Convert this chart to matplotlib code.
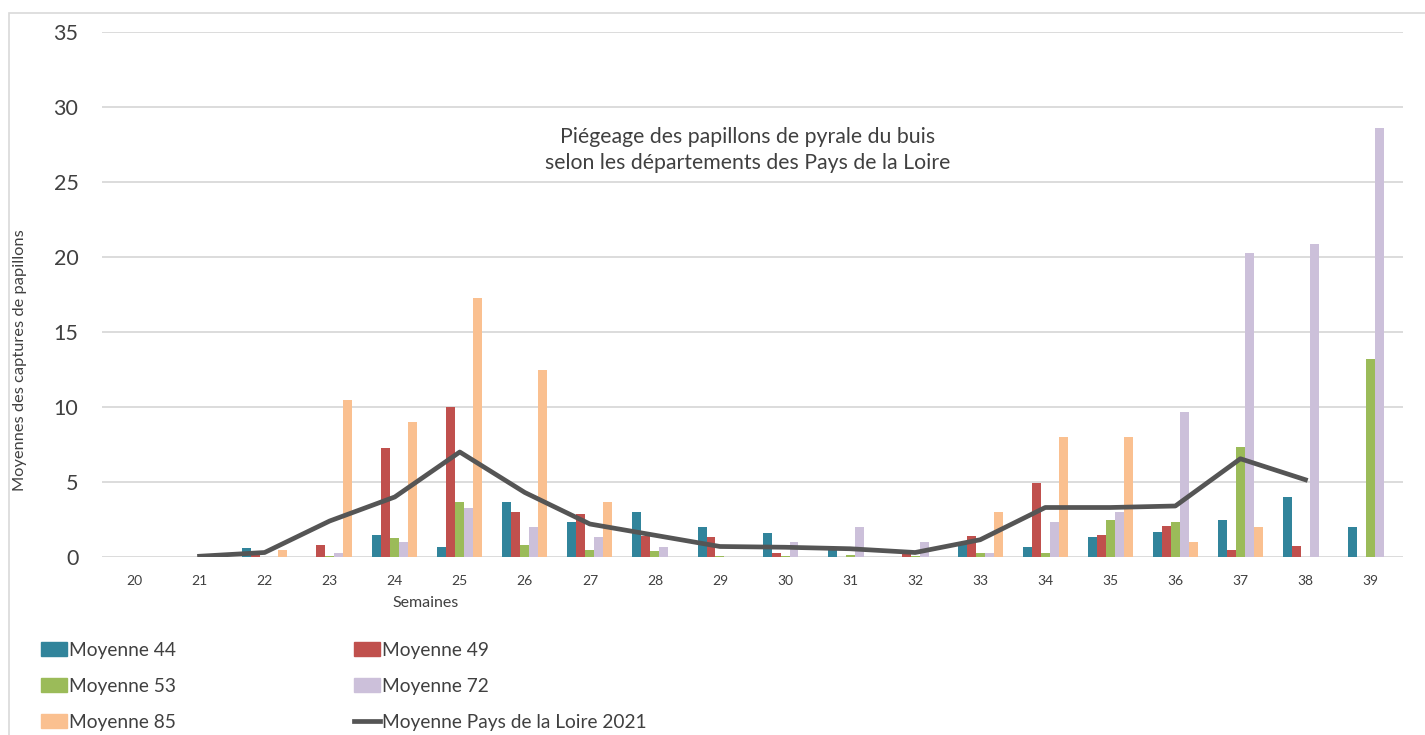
import matplotlib
matplotlib.use("Agg")
import matplotlib.pyplot as plt
import numpy as np
from matplotlib.patches import Rectangle, Patch
from matplotlib.lines import Line2D

plt.rcParams["font.family"] = ["Lato", "DejaVu Sans"]

semaines = list(range(20, 40))
moy_44 = [0, 0, 0.6, 0, 1.47, 0.65, 3.7, 2.36, 3.0, 2.0, 1.6, 0.5, 0, 0.9, 0.64, 1.36, 1.7, 2.5, 4.0, 1.98]
moy_49 = [0, 0, 0.25, 0.78, 7.3, 10.0, 3.0, 2.87, 1.4, 1.35, 0.3, 0, 0.3, 1.42, 4.96, 1.47, 2.04, 0.44, 0.71, 0]
moy_53 = [0, 0, 0, 0.1, 1.3, 3.7, 0.78, 0.5, 0.38, 0.1, 0.1, 0.13, 0.1, 0.3, 0.3, 2.5, 2.36, 7.36, 0, 13.2]
moy_72 = [0, 0, 0, 0.3, 1.0, 3.3, 2.0, 1.35, 0.65, 0, 1.0, 2.0, 1.0, 0.3, 2.36, 3.0, 9.64, 20.3, 20.9, 28.6]
moy_85 = [0, 0, 0.5, 10.5, 9.0, 17.3, 12.5, 3.7, 0, 0, 0, 0, 0, 2.98, 7.98, 8.0, 1.02, 1.98, 0, 0]
moy_pdl = [np.nan, 0.05, 0.3, 2.4, 4.0, 7.0, 4.3, 2.2, 1.45, 0.7, 0.65, 0.55, 0.3, 1.15, 3.3, 3.3, 3.4, 6.55, 5.15, np.nan]

series = [
    ("Moyenne 44", moy_44, "#31849B"),
    ("Moyenne 49", moy_49, "#C0504D"),
    ("Moyenne 53", moy_53, "#9BBB59"),
    ("Moyenne 72", moy_72, "#CCC0DA"),
    ("Moyenne 85", moy_85, "#FAC090"),
]
line_color = "#555555"
text_color = "#404040"

fig = plt.figure(figsize=(14.25, 7.35), dpi=100)
W, H = 1425, 735

# cadre du graphique
fig.patches.append(Rectangle((9 / W, -0.5), 2, 0.5 + 1 - 13 / H, transform=fig.transFigure,
                             fill=False, edgecolor="#D9D9D9", linewidth=1.2))

ax = fig.add_axes([102 / W, 1 - 557 / H, 1301 / W, 525 / H])

x = np.array(semaines)
bw = 0.138
for i, (name, vals, col) in enumerate(series):
    ax.bar(x + (i - 2) * bw, vals, width=bw, color=col, zorder=2)
ax.plot(x, moy_pdl, color=line_color, linewidth=3.4, zorder=3)

ax.set_xlim(19.5, 39.5)
ax.set_ylim(0, 35)
ax.set_yticks(range(0, 36, 5))
ax.set_xticks(x)
ax.set_xticklabels([str(s) for s in semaines])
ax.tick_params(axis="y", labelsize=15.5, colors=text_color, length=0, pad=17)
ax.tick_params(axis="x", labelsize=10, colors=text_color, length=0, pad=13)
ax.grid(axis="y", color="#D9D9D9", linewidth=1.3, zorder=0)
ax.set_axisbelow(True)
for s in ax.spines.values():
    s.set_visible(False)

fig.text(748 / W, 1 - 150 / H,
         "Piégeage des papillons de pyrale du buis\nselon les départements des Pays de la Loire",
         ha="center", va="center", fontsize=15.3, color=text_color, linespacing=1.35)
fig.text(426 / W, 1 - 603 / H, "Semaines", ha="center", va="center", fontsize=11.5, color=text_color)
fig.text(20 / W, 1 - 360 / H, "Moyennes des captures de papillons", rotation=90,
         ha="center", va="center", fontsize=11.8, color=text_color)

handles = [Patch(color=c) for _, _, c in series]
h = [handles[0], handles[2], handles[4], handles[1], handles[3],
     Line2D([], [], color=line_color, linewidth=3.4)]
labels = ["Moyenne 44", "Moyenne 53", "Moyenne 85", "Moyenne 49", "Moyenne 72",
          "Moyenne Pays de la Loire 2021"]
fig.legend(h, labels, loc="upper left", bbox_to_anchor=(41 / W, 1 - 642 / H), ncol=2,
           frameon=False, fontsize=13.8, handlelength=1.35, handleheight=0.72,
           handletextpad=0.1, columnspacing=9.3, labelspacing=0.98, labelcolor=text_color,
           borderaxespad=0, borderpad=0)

fig.savefig("out.png", dpi=100)
